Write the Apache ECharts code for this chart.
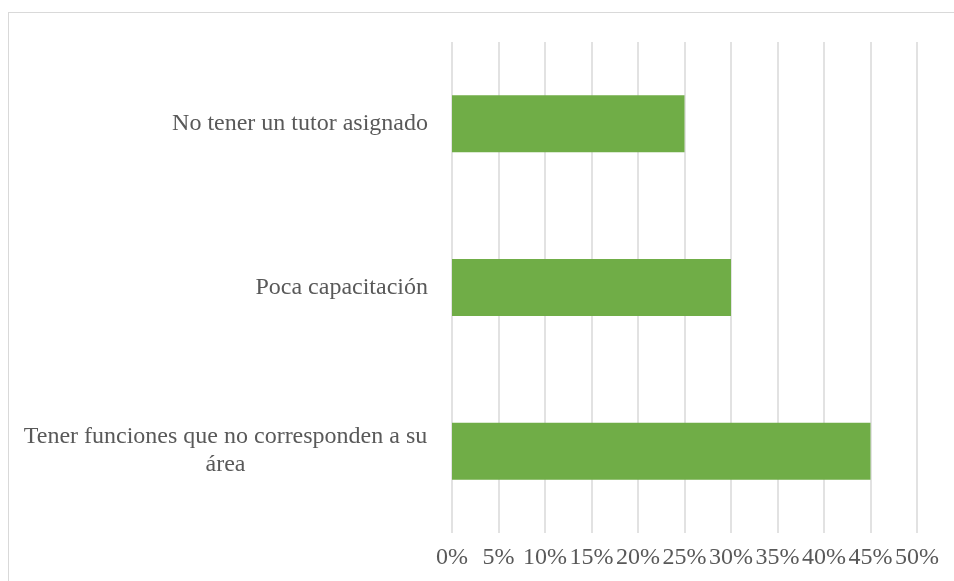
<!DOCTYPE html>
<html>
<head>
<meta charset="utf-8">
<script src="https://cdn.jsdelivr.net/npm/echarts@6/dist/echarts.min.js"></script>
<style>
    html, body { margin: 0; padding: 0; background: #fff; overflow: hidden; }
    #frame { position: absolute; left: 8px; top: 12px; width: 1000px; height: 1000px; border: 1px solid #d9d9d9; }
    #chart { position: absolute; left: 0; top: 0; width: 954px; height: 581px; }
</style>
</head>
<body>
<div id="frame"></div>
<div id="chart"></div>
<script>
    const categories = [
        'No tener un tutor asignado',
        'Poca capacitación',
        'Tener funciones que no corresponden a su\nárea'
    ]
    const values = [25, 30, 45]
    const xTicks = [0, 5, 10, 15, 20, 25, 30, 35, 40, 45, 50]

    const font = '"Liberation Serif", "Times New Roman", serif'
    const chart = echarts.init(document.getElementById('chart'))

    const options = {
        animation: false,
        grid: {
            left: 452,
            right: 37,
            top: 42,
            bottom: 48
        },
        xAxis: {
            type: 'value',
            min: xTicks[0],
            max: xTicks[xTicks.length - 1],
            interval: xTicks[1] - xTicks[0],
            axisLine: { show: false },
            axisTick: { show: false },
            splitLine: { lineStyle: { color: '#d9d9d9', width: 1.5 } },
            axisLabel: {
                formatter: '{value}%',
                color: '#595959',
                fontFamily: font,
                fontSize: 24,
                margin: 13
            }
        },
        yAxis: {
            type: 'category',
            inverse: true,
            data: categories,
            axisLine: { show: false },
            axisTick: { show: false },
            axisLabel: {
                color: '#595959',
                fontFamily: font,
                fontSize: 24,
                margin: 24,
                lineHeight: 28,
                formatter: function (v) {
                    if (v.indexOf('\n') < 0) return v
                    return v.split('\n').map(function (s) { return '{w|' + s + '}' }).join('\n')
                },
                rich: {
                    w: {
                        width: 405,
                        align: 'center',
                        color: '#595959',
                        fontFamily: font,
                        fontSize: 24,
                        lineHeight: 28
                    }
                }
            }
        },
        series: [
            {
                type: 'bar',
                data: values,
                barWidth: 57,
                itemStyle: { color: '#70ad47' }
            }
        ]
    }
    chart.setOption(options)
</script>
</body>
</html>
